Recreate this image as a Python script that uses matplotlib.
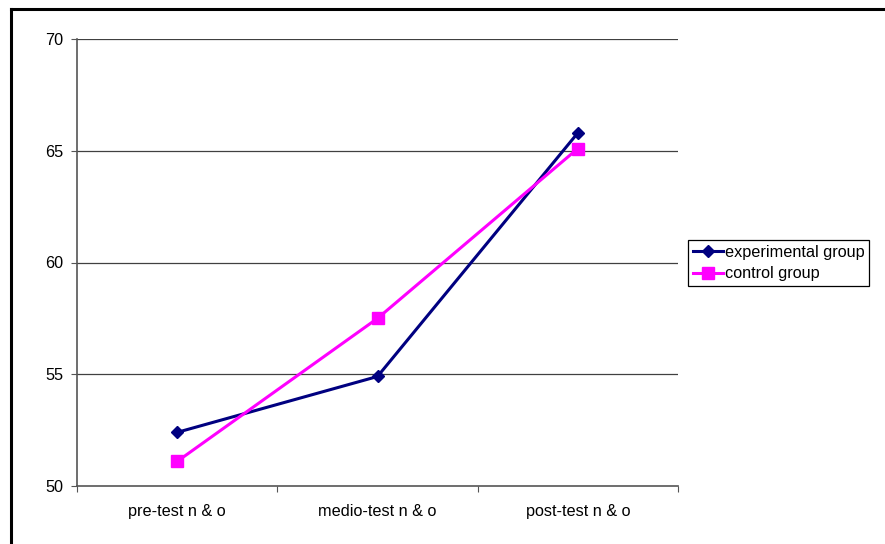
import matplotlib
matplotlib.use("Agg")
import matplotlib.pyplot as plt
from matplotlib.lines import Line2D

plt.rcParams['font.family'] = ['Liberation Sans', 'DejaVu Sans']

categories = ["pre-test n & o", "medio-test n & o", "post-test n & o"]
experimental = [52.4, 54.9, 65.8]
control = [51.1, 57.5, 65.1]
yticks = [50, 55, 60, 65, 70]

FS = 11.7

fig = plt.figure(figsize=(8.85, 5.44), dpi=100)
ax = fig.add_axes([77/885, 1-486/544, 601/885, 447/544])

x = list(range(len(categories)))
ax.plot(x, experimental, color='#000080', lw=2.2, marker='D', ms=6.5, label='experimental group', zorder=3)
ax.plot(x, control, color='#FF00FF', lw=2.2, marker='s', ms=8.5, label='control group', zorder=3)

ax.set_xlim(-0.5, 2.5)
ax.set_ylim(50, 70)
ax.set_yticks(yticks)
ax.set_yticklabels([str(v) for v in yticks], fontsize=FS)
for v in yticks[1:]:
    ax.axhline(v, color='#404040', lw=0.9, zorder=1)

ax.set_xticks([-0.5, 0.5, 1.5, 2.5])
ax.set_xticklabels([])
ax.set_xticks(x, minor=True)
ax.set_xticklabels(categories, minor=True, fontsize=FS)
ax.tick_params(axis='x', which='minor', length=0, pad=13)
ax.tick_params(axis='x', which='major', length=4, color='#555555', direction='out')
ax.tick_params(axis='y', length=4, color='#555555', direction='out', pad=6)

for s in ['top', 'right']:
    ax.spines[s].set_visible(False)
for s in ['left', 'bottom']:
    ax.spines[s].set_color('#555555')
    ax.spines[s].set_linewidth(1.2)

leg = fig.legend(loc='upper left', bbox_to_anchor=(688/885, 1-240/544), fontsize=FS,
                 frameon=True, fancybox=False, edgecolor='black', framealpha=1,
                 borderpad=0.3, handlelength=1.85, handletextpad=0.12, labelspacing=0.4,
                 borderaxespad=0)
leg.get_frame().set_linewidth(0.9)

fig.add_artist(Line2D([11/885, 11/885], [0, 1-9/544], color='black', lw=2.2, transform=fig.transFigure))
fig.add_artist(Line2D([11/885, 1], [1-9/544, 1-9/544], color='black', lw=2.2, transform=fig.transFigure))

fig.savefig("out.png", dpi=100)
